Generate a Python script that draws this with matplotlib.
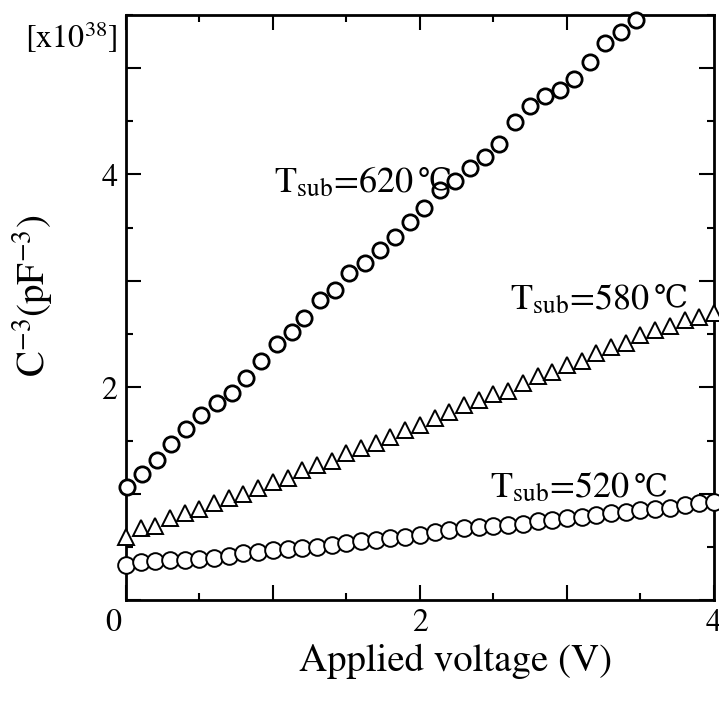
import numpy as np
import matplotlib.pyplot as plt
from matplotlib.ticker import MultipleLocator, FuncFormatter

plt.rcParams['font.family'] = ['STIXGeneral', 'DejaVu Serif']
plt.rcParams['mathtext.fontset'] = 'stix'

# T_sub = 620 C (open circles)
v620 = [0.01, 0.11, 0.21, 0.31, 0.41, 0.51, 0.62, 0.72, 0.82, 0.92,
        1.03, 1.13, 1.21, 1.32, 1.42, 1.52, 1.63, 1.73, 1.83, 1.93,
        2.03, 2.14, 2.24, 2.34, 2.44, 2.54, 2.65, 2.75, 2.85, 2.95,
        3.05, 3.16, 3.26, 3.37, 3.47]
c620 = [1.06, 1.19, 1.32, 1.47, 1.61, 1.74, 1.85, 1.95, 2.09, 2.25,
        2.41, 2.52, 2.65, 2.82, 2.91, 3.07, 3.17, 3.29, 3.41, 3.55,
        3.68, 3.85, 3.94, 4.06, 4.16, 4.29, 4.49, 4.64, 4.74, 4.79,
        4.90, 5.06, 5.23, 5.34, 5.45]

# T_sub = 580 C (triangles), 0 .. 4 V
v580 = [i / 10 for i in range(41)]
c580 = [0.59, 0.68, 0.70, 0.77, 0.82, 0.86, 0.91, 0.96, 1.00, 1.05,
        1.11, 1.15, 1.22, 1.27, 1.31, 1.38, 1.43, 1.48, 1.53, 1.60,
        1.65, 1.71, 1.77, 1.83, 1.88, 1.94, 1.97, 2.04, 2.11, 2.14,
        2.21, 2.25, 2.32, 2.38, 2.42, 2.49, 2.54, 2.58, 2.63, 2.66,
        2.70]

# T_sub = 520 C (open circles), 0 .. 4 V
v520 = [i / 10 for i in range(41)]
c520 = [0.33, 0.36, 0.37, 0.38, 0.38, 0.39, 0.40, 0.42, 0.44, 0.45,
        0.47, 0.48, 0.49, 0.50, 0.52, 0.54, 0.56, 0.57, 0.58, 0.59,
        0.61, 0.64, 0.66, 0.68, 0.69, 0.70, 0.71, 0.72, 0.74, 0.75,
        0.77, 0.78, 0.80, 0.82, 0.83, 0.85, 0.86, 0.87, 0.89, 0.91,
        0.92]

temps = ['620', '580', '520']
label_x = [1.01, 2.61, 2.48]
label_y = [3.92, 2.82, 1.05]

fig = plt.figure(figsize=(7.19, 7.02), dpi=100)
ax = fig.add_axes([0.175, 0.145, 0.818, 0.834])

ax.plot(v620, c620, 'o', ms=11, mfc='white', mec='black', mew=2.0, clip_on=False, zorder=3)
ax.plot(v580, c580, '^', ms=11, mfc='white', mec='black', mew=1.4, clip_on=False, zorder=3)
ax.plot(v520, c520, 'o', ms=12, mfc='white', mec='black', mew=1.4, clip_on=False, zorder=3)

# STIX has no degree-Celsius sign, so it is drawn in DejaVu Serif right after
for t, x, y in zip(temps, label_x, label_y):
    main = ax.text(x, y, r'T$_{\mathrm{sub}}$=' + t, fontsize=26, ha='left', va='center')
    ax.annotate('℃', xy=(1, 0.55), xycoords=main, xytext=(3, 0), textcoords='offset points',
                fontsize=22, family='DejaVu Serif', ha='left', va='center')

ax.set_xlim(0, 4)
ax.set_ylim(0, 5.5)

ax.xaxis.set_major_locator(MultipleLocator(1))
ax.xaxis.set_minor_locator(MultipleLocator(0.5))
ax.yaxis.set_major_locator(MultipleLocator(1))
ax.yaxis.set_minor_locator(MultipleLocator(0.5))
even = FuncFormatter(lambda v, p: f'{int(v)}' if v > 0 and int(round(v)) % 2 == 0 else '')
ax.xaxis.set_major_formatter(even)
ax.yaxis.set_major_formatter(even)

ax.tick_params(which='both', direction='in', top=True, right=True, width=1.5, labelsize=23)
ax.tick_params(which='major', length=11, pad=6)
ax.tick_params(which='minor', length=5)
for s in ax.spines.values():
    s.set_linewidth(2)

ax.annotate('0', xy=(0, 0), xytext=(-9, -6), textcoords='offset points',
            fontsize=23, ha='center', va='top')

ax.set_xlabel('Applied voltage (V)', fontsize=28)
ax.xaxis.set_label_coords(0.56, -0.075)
ax.set_ylabel(r'C$^{-3}$(pF$^{-3}$)', fontsize=28)
ax.yaxis.set_label_coords(-0.12, 0.52)

fig.text(25 / 719, 1 - 48 / 702, r'[x10$^{38}$]', fontsize=23)

fig.savefig('out.png', dpi=100)
